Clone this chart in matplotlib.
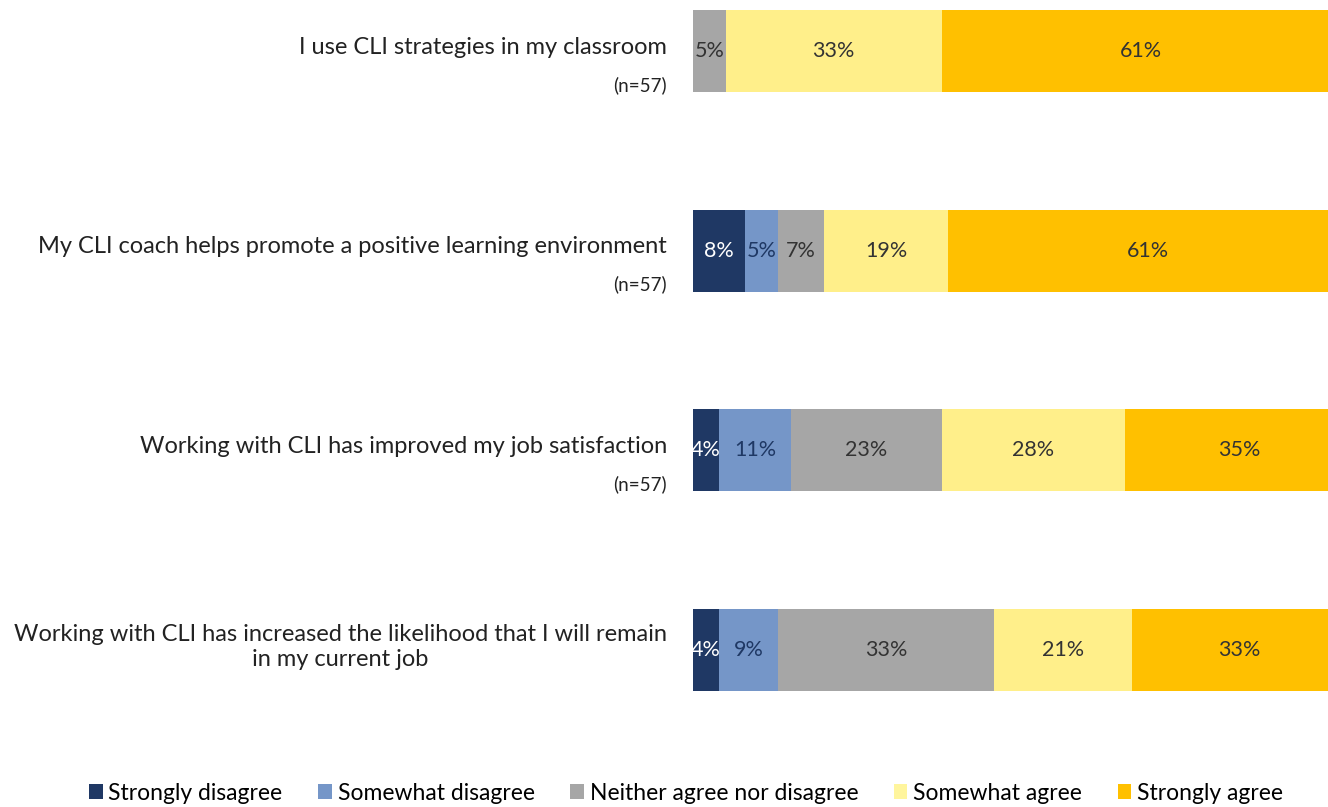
import matplotlib
matplotlib.use("Agg")
import matplotlib.pyplot as plt
import matplotlib.transforms as mtransforms
from matplotlib.patches import Patch
import numpy as np

plt.rcParams['font.family'] = ['Lato', 'DejaVu Sans']

categories = [
    "I use CLI strategies in my classroom",
    "My CLI coach helps promote a positive learning environment",
    "Working with CLI has improved my job satisfaction",
    "Working with CLI has increased the likelihood that I will remain\nin my current job",
]
n_labels = ["(n=57)", "(n=57)", "(n=57)", ""]
series_names = ["Strongly disagree", "Somewhat disagree", "Neither agree nor disagree",
                "Somewhat agree", "Strongly agree"]
strongly_disagree = [0, 8, 4, 4]
somewhat_disagree = [0, 5, 11, 9]
neither = [5, 7, 23, 33]
somewhat_agree = [33, 19, 28, 21]
strongly_agree = [61, 61, 35, 33]
values = [strongly_disagree, somewhat_disagree, neither, somewhat_agree, strongly_agree]

colors = ["#1F3864", "#7596C8", "#A6A6A6", "#FFEF8A", "#FFC000"]
legend_colors = ["#1F3864", "#7596C8", "#A6A6A6", "#FFF59D", "#FFC000"]
text_colors = ["white", "#1F3864", "#333333", "#333333", "#333333"]

W, H = 1328, 807
fig = plt.figure(figsize=(W / 100, H / 100), dpi=100)
ax_left = 693 / W
ax_top_px, ax_bot_px = 0, 700
ax = fig.add_axes([ax_left, 1 - ax_bot_px / H, 1 - ax_left, (ax_bot_px - ax_top_px) / H])

spacing = 199.67
y = np.arange(len(categories))
ax.set_ylim((ax_bot_px - 51) / spacing, (ax_top_px - 51) / spacing)
ax.set_xlim(0, 97)

left = np.zeros(len(categories))
for vals, col, tcol, name in zip(values, colors, text_colors, series_names):
    vals = np.array(vals, dtype=float)
    ax.barh(y, vals, left=left, height=0.41, color=col, label=name)
    for i, v in enumerate(vals):
        if v > 0:
            ax.text(left[i] + v / 2, y[i], f"{int(v)}%", ha='center', va='center',
                    fontsize=15.5, color=tcol)
    left += vals

ax.axis('off')

trans = mtransforms.blended_transform_factory(fig.transFigure, ax.transData)
for i, (cat, n) in enumerate(zip(categories, n_labels)):
    if n:
        ax.text(667 / W, y[i] - 0.02, cat, transform=trans, ha='right', va='center',
                fontsize=17, color='#222222')
        ax.text(667 / W, y[i] + 0.17, n, transform=trans, ha='right', va='center',
                fontsize=13.5, color='#222222')
    else:
        ax.text(667 / W, y[i] - 0.015, cat, transform=trans, ha='right', va='center',
                fontsize=17, color='#222222', multialignment='center', linespacing=1.2)

handles = [Patch(facecolor=c, edgecolor='none') for c in legend_colors]
fig.legend(handles, series_names, loc='center', bbox_to_anchor=(686 / W, 1 - 793 / H),
           ncol=5, frameon=False, fontsize=16.5, handlelength=0.6, handleheight=0.6,
           handletextpad=0.25, columnspacing=1.55)

fig.savefig("out.png", dpi=100, facecolor='white')
